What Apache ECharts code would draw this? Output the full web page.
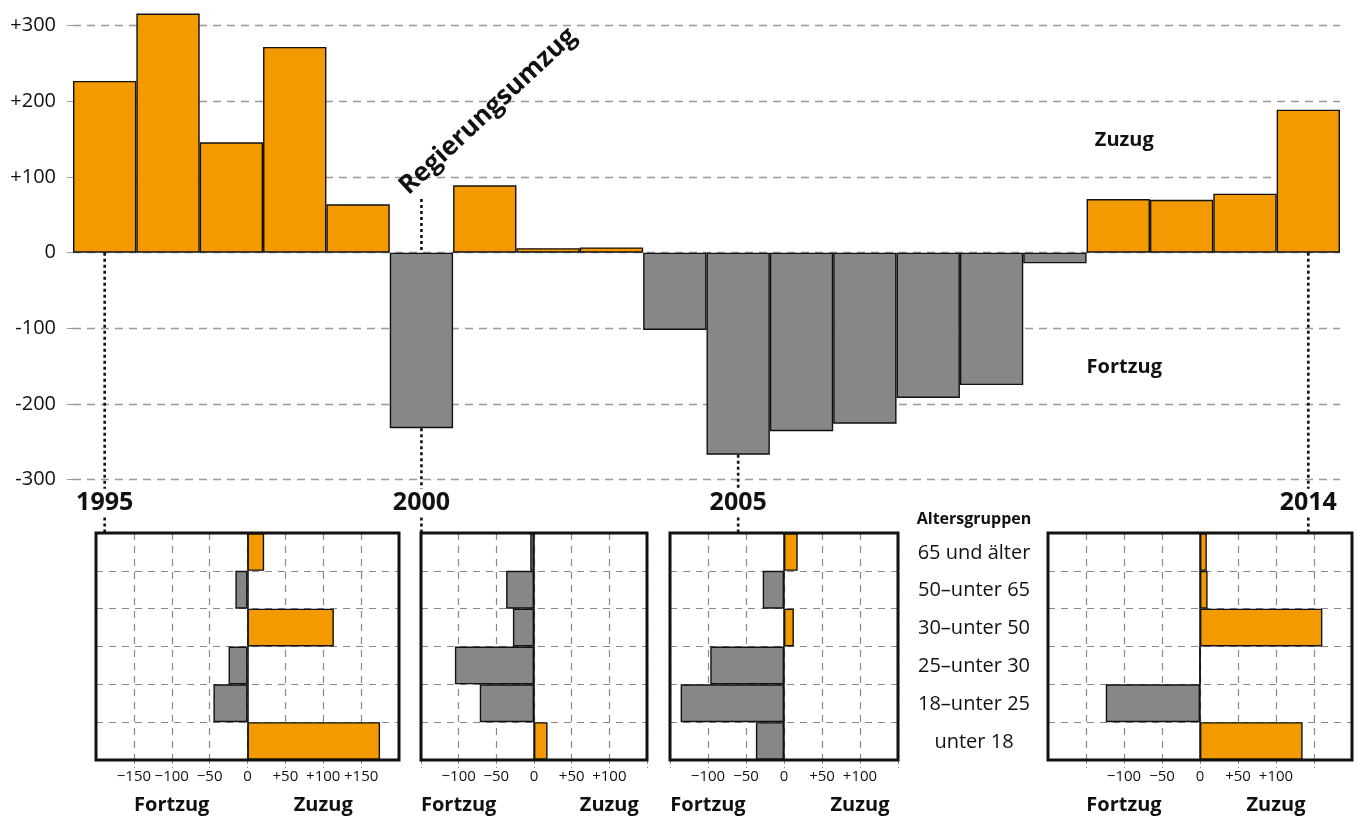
<!DOCTYPE html>
<html><head><meta charset="utf-8">
<script src="https://cdn.jsdelivr.net/npm/echarts@6/dist/echarts.min.js"></script>
<style>html,body{margin:0;padding:0;background:#fff}#c{width:1357px;height:819px}</style>
</head><body><div id="c"></div>
<script>
// ---- data ----
const years = ['1995','1996','1997','1998','1999','2000','2001','2002','2003','2004','2005','2006','2007','2008','2009','2010','2011','2012','2013','2014'];
const saldo = [227,316,146,272,64,-232,89,6,7,-102,-267,-236,-226,-192,-175,-14,71,70,78,189];
const mainTicks = [-300,-200,-100,0,100,200,300];
const ageGroups = ['65 und älter','50–unter 65','30–unter 50','25–unter 30','18–unter 25','unter 18'];
const age1995 = [22,-16,114,-25,-45,175];
const age2000 = [-5,-37,-28,-105,-72,18];
const age2005 = [18,-28,13,-97,-136,-37];
const age2014 = [9,10,161,0,-124,135];
const panelYears = ['1995','2000','2005','2014'];
const panelData = [age1995, age2000, age2005, age2014];
const panelRange = [200,150,150,200];
const panelLabelLimit = [150,100,100,100];
const panelTicks = [-150,-100,-50,0,50,100,150];
const annotation = 'Regierungsumzug';

// ---- style ----
const ORANGE = '#F39A00', GRAY = '#878787', FONT = "'Open Sans', 'Noto Sans', sans-serif";
const panelGrids = [
  {left:96, top:533, width:303, height:227},
  {left:421, top:533, width:226, height:227},
  {left:670, top:533, width:228, height:227},
  {left:1048, top:533, width:304, height:227}
];
const colorFn = p => (p.value >= 0 ? ORANGE : GRAY);
const sign = (v, minus) => v === 0 ? '0' : (v > 0 ? '+' + v : minus + Math.abs(v));

const chart = echarts.init(document.getElementById('c'), null, {renderer:'canvas'});
const grid = [{left:73, top:25.7, width:1267, height:454}].concat(panelGrids.map(g => Object.assign({}, g)));
const xAxis = [{type:'category', gridIndex:0, data:years, show:false}];
const yAxis = [{type:'value', gridIndex:0, min:-300, max:300, interval:100,
  axisLine:{show:false}, axisTick:{show:true, length:7, lineStyle:{color:'#999', type:[6,5]}},
  axisLabel:{margin:17, fontSize:20, color:'#111', fontFamily:FONT, formatter: v => sign(v,'-')},
  splitLine:{lineStyle:{color:'#999', type:[8,6], width:1.3}}}];
const series = [{type:'bar', xAxisIndex:0, yAxisIndex:0, data:saldo, barWidth:'100%', clip:false,
  itemStyle:{color:colorFn, borderColor:'#111', borderWidth:1.4}, animation:false}];
panelData.forEach((d, i) => {
  const R = panelRange[i], L = panelLabelLimit[i];
  xAxis.push({type:'value', gridIndex:i+1, min:-R, max:R, interval:50,
    axisLine:{show:false},
    axisTick:{show:true, length:8, customValues:panelTicks, lineStyle:{color:'#888', type:[4,3]}},
    axisLabel:{margin:9, fontSize:15, color:'#111', fontFamily:FONT,
      formatter: v => Math.abs(v) > L ? '' : sign(v,'−')},
    splitLine:{lineStyle:{color:'#888', type:[7,6], width:1.2}}});
  yAxis.push({type:'category', gridIndex:i+1, data:ageGroups, inverse:true,
    axisLine:{show:true, onZero:true, lineStyle:{color:'#111', width:1.5}},
    axisTick:{show:false}, axisLabel:{show:false},
    splitLine:{show:true, interval:0, lineStyle:{color:'#888', type:[7,6], width:1.2}}});
  series.push({type:'bar', xAxisIndex:i+1, yAxisIndex:i+1, data:d, barWidth:'100%',
    itemStyle:{color:colorFn, borderColor:'#111', borderWidth:1.4}, animation:false});
});
chart.setOption({animation:false, grid, xAxis, yAxis, series});

// ---- annotations from the library's scales ----
const px = (gi, x, y) => chart.convertToPixel({xAxisIndex:gi, yAxisIndex:gi}, [x, y]);
const g = [];
const dot = (x, y1, y2) => g.push({type:'line', z:50, shape:{x1:x, y1:y1, x2:x, y2:y2},
  style:{stroke:'#111', lineWidth:2.6, lineDash:[3,3]}});
const txt = (x, y, t, size, bold, align, extra) => g.push(Object.assign({type:'text', z:60, x:x, y:y,
  style:{text:t, font:(bold?'bold ':'') + size + 'px ' + FONT, fill:'#111', textAlign:align||'center', textVerticalAlign:'middle'}}, extra||{}));

const smallTop = panelGrids[0].top;
panelYears.forEach((yr, i) => {
  const idx = years.indexOf(yr);
  const v = saldo[idx];
  const x = px(0, yr, 0)[0];
  const yLow = px(0, yr, -312)[1];
  const yLab = px(0, yr, -331)[1];
  const yLow2 = px(0, yr, -350)[1];
  if (yr === '2000') { dot(x, px(0, yr, 71)[1], px(0, yr, 0)[1]); }
  const yStart = v < 0 ? px(0, yr, v)[1] : px(0, yr, 0)[1];
  dot(x, yStart, yLow);
  txt(x, yLab, yr, 25, true);
  dot(x, yLow2, smallTop);
});
// rotated annotation
const a = px(0, '2000', 74);
g.push({type:'text', z:60, x:a[0]-9, y:a[1]+3, rotation:43*Math.PI/180,
  style:{text:annotation, font:'bold 26px ' + FONT, fill:'#111', textAlign:'left', textVerticalAlign:'bottom'}});
// Zuzug / Fortzug main
txt(px(0,'2011',0)[0]+6, px(0,'2011',148)[1], 'Zuzug', 20, true);
txt(px(0,'2011',0)[0]+6, px(0,'2011',-151)[1], 'Fortzug', 20, true);

// panels: borders and labels
panelGrids.forEach((pg, i) => {
  g.push({type:'rect', z:55, shape:{x:pg.left, y:pg.top, width:pg.width, height:pg.height},
    style:{fill:'none', stroke:'#111', lineWidth:3}});
  txt(px(i+1, -100, ageGroups[0])[0], 805, 'Fortzug', 20, true);
  txt(px(i+1, 100, ageGroups[0])[0], 805, 'Zuzug', 20, true);
});
// age group legend
txt(974, 519, 'Altersgruppen', 16, true);
ageGroups.forEach(a2 => {
  const y = px(1, 0, a2)[1];
  txt(974, y + 1, a2, 20, false);
});
chart.setOption({graphic: g});
</script></body></html>
